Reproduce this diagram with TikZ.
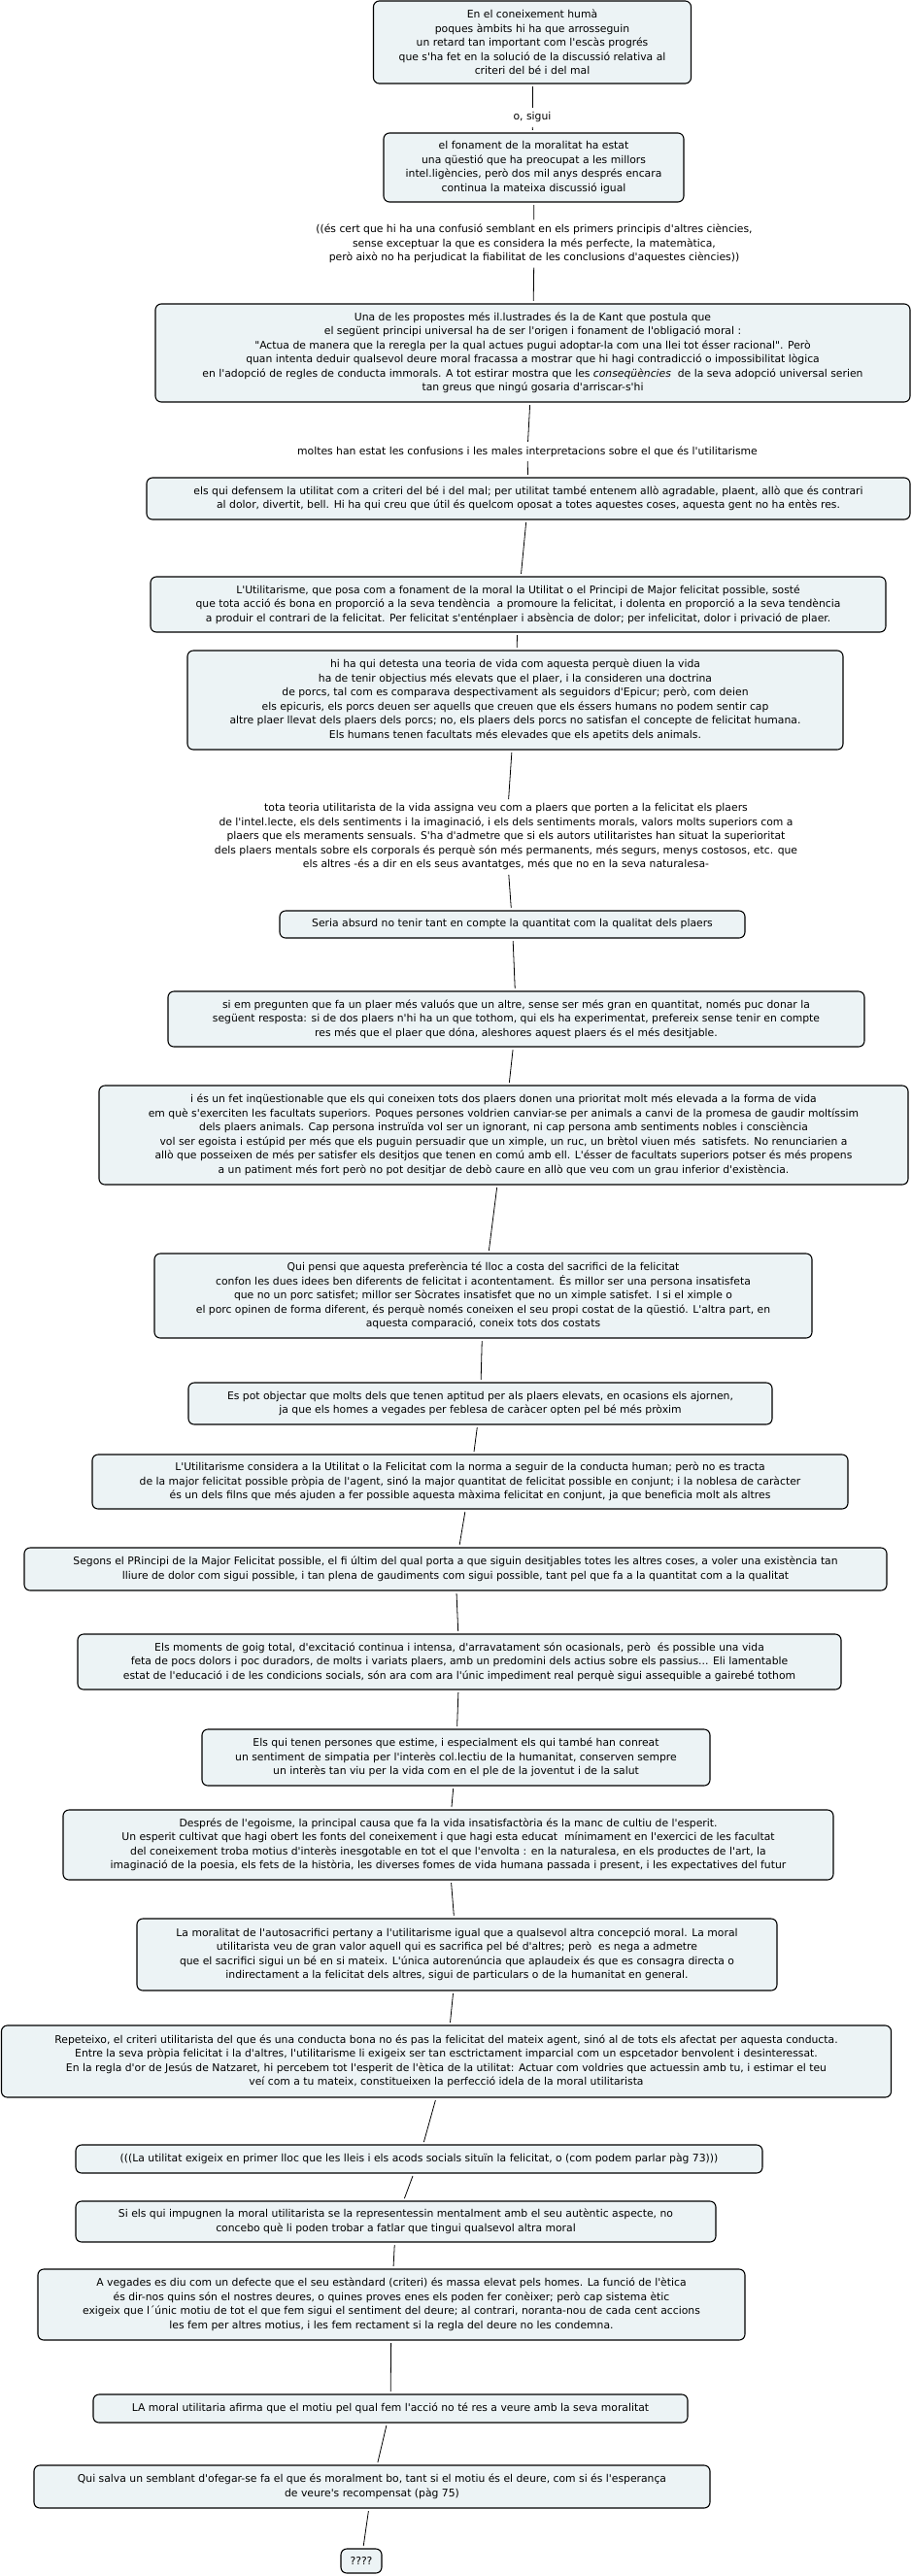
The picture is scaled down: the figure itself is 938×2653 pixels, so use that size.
\documentclass[tikz,border=0pt]{standalone}
\usepackage{fontspec}
\setmainfont{DejaVu Sans}[Ligatures=TeXOff]
\definecolor{boxfill}{RGB}{236,243,245}
\newcommand\mapfont{\fontsize{10.8}{14.5}\selectfont}
\tikzset{
  box/.style={draw=black, line width=1.1pt, fill=boxfill, rounded corners=6pt, align=center, inner sep=0pt, font=\mapfont},
  lab/.style={align=center, inner sep=2pt, font=\mapfont},
  conn/.style={draw=black, line width=0.8pt, shorten >=2.5pt, shorten <=2.5pt},
}
\begin{document}
\begin{tikzpicture}[x=1pt, y=-1pt]
\useasboundingbox (0,0) rectangle (938,2653);

\node[box, minimum width=327, minimum height=85] (B1) at (548,43.5) {En el coneixement humà\\poques àmbits hi ha que arrosseguin\\un retard tan important com l'escàs progrés\\que s'ha fet en la solució de la discussió relativa al\\criteri del bé i del mal};
\node[lab] (L1) at (548,121) {o, sigui};
\node[box, minimum width=309, minimum height=71] (B2) at (549.5,172.5) {el fonament de la moralitat ha estat\\una qüestió que ha preocupat a les millors\\intel.ligències, però dos mil anys després encara\\continua la mateixa discussió igual};
\node[lab] (L2) at (550,251) {((és cert que hi ha una confusió semblant en els primers principis d'altres ciències,\\sense exceptuar la que es considera la més perfecte, la matemàtica,\\però això no ha perjudicat la fiabilitat de les conclusions d'aquestes ciències))};
\node[box, minimum width=777, minimum height=101] (B3) at (548.5,363.5) {Una de les propostes més il.lustrades és la de Kant que postula que\\el següent principi universal ha de ser l'origen i fonament de l'obligació moral :\\"Actua de manera que la reregla per la qual actues pugui adoptar-la com una llei tot ésser racional". Però\\quan intenta deduir qualsevol deure moral fracassa a mostrar que hi hagi contradicció o impossibilitat lògica\\en l'adopció de regles de conducta immorals. A tot estirar mostra que les \textit{conseqüències}\ \ de la seva adopció universal serien\\tan greus que ningú gosaria d'arriscar-s'hi};
\node[lab] (L3) at (543,465) {moltes han estat les confusions i les males interpretacions sobre el que és l'utilitarisme};
\node[box, minimum width=786, minimum height=43] (B4) at (544,513.5) {els qui defensem la utilitat com a criteri del bé i del mal; per utilitat també entenem allò agradable, plaent, allò que és contrari\\al dolor, divertit, bell. Hi ha qui creu que útil és quelcom oposat a totes aquestes coses, aquesta gent no ha entès res.};
\node[box, minimum width=757, minimum height=57] (B5) at (533.5,622.5) {L'Utilitarisme, que posa com a fonament de la moral la Utilitat o el Principi de Major felicitat possible, sosté\\que tota acció és bona en proporció a la seva tendència\ \ a promoure la felicitat, i dolenta en proporció a la seva tendència\\a produir el contrari de la felicitat. Per felicitat s'enténplaer i absència de dolor; per infelicitat, dolor i privació de plaer.};
\node[box, minimum width=675, minimum height=102] (B6) at (530.5,721) {hi ha qui detesta una teoria de vida com aquesta perquè diuen la vida\\ha de tenir objectius més elevats que el plaer, i la consideren una doctrina\\de porcs, tal com es comparava despectivament als seguidors d'Epicur; però, com deien\\els epicuris, els porcs deuen ser aquells que creuen que els éssers humans no podem sentir cap\\altre plaer llevat dels plaers dels porcs; no, els plaers dels porcs no satisfan el concepte de felicitat humana.\\Els humans tenen facultats més elevades que els apetits dels animals.};
\node[lab] (L4) at (521,862) {tota teoria utilitarista de la vida assigna veu com a plaers que porten a la felicitat els plaers\\de l'intel.lecte, els dels sentiments i la imaginació, i els dels sentiments morals, valors molts superiors com a\\plaers que els meraments sensuals. S'ha d'admetre que si els autors utilitaristes han situat la superioritat\\dels plaers mentals sobre els corporals és perquè són més permanents, més segurs, menys costosos, etc. que\\els altres -és a dir en els seus avantatges, més que no en la seva naturalesa-};
\node[box, minimum width=479, minimum height=28] (B7) at (527.5,952) {Seria absurd no tenir tant en compte la quantitat com la qualitat dels plaers};
\node[box, minimum width=717, minimum height=57] (B8) at (531.5,1049.5) {si em pregunten que fa un plaer més valuós que un altre, sense ser més gran en quantitat, només puc donar la\\següent resposta: si de dos plaers n'hi ha un que tothom, qui els ha experimentat, prefereix sense tenir en compte\\res més que el plaer que dóna, aleshores aquest plaers és el més desitjable.};
\node[box, minimum width=833, minimum height=102] (B9) at (518.5,1169) {i és un fet inqüestionable que els qui coneixen tots dos plaers donen una prioritat molt més elevada a la forma de vida\\em què s'exerciten les facultats superiors. Poques persones voldrien canviar-se per animals a canvi de la promesa de gaudir moltíssim\\dels plaers animals. Cap persona instruïda vol ser un ignorant, ni cap persona amb sentiments nobles i consciència\\vol ser egoista i estúpid per més que els puguin persuadir que un ximple, un ruc, un brètol viuen més\ \ satisfets. No renunciarien a\\allò que posseixen de més per satisfer els desitjos que tenen en comú amb ell. L'ésser de facultats superiors potser és més propens\\a un patiment més fort però no pot desitjar de debò caure en allò que veu com un grau inferior d'existència.};
\node[box, minimum width=677, minimum height=87] (B10) at (497.5,1334.5) {Qui pensi que aquesta preferència té lloc a costa del sacrifici de la felicitat\\confon les dues idees ben diferents de felicitat i acontentament. És millor ser una persona insatisfeta\\que no un porc satisfet; millor ser Sòcrates insatisfet que no un ximple satisfet. I si el ximple o\\el porc opinen de forma diferent, és perquè només coneixen el seu propi costat de la qüestió. L'altra part, en\\aquesta comparació, coneix tots dos costats};
\node[box, minimum width=601, minimum height=43] (B11) at (494.5,1445.5) {Es pot objectar que molts dels que tenen aptitud per als plaers elevats, en ocasions els ajornen,\\ja que els homes a vegades per feblesa de caràcer opten pel bé més pròxim};
\node[box, minimum width=778, minimum height=56] (B12) at (484,1526) {L'Utilitarisme considera a la Utilitat o la Felicitat com la norma a seguir de la conducta human; però no es tracta\\de la major felicitat possible pròpia de l'agent, sinó la major quantitat de felicitat possible en conjunt; i la noblesa de caràcter\\és un dels filns que més ajuden a fer possible aquesta màxima felicitat en conjunt, ja que beneficia molt als altres};
\node[box, minimum width=888, minimum height=44] (B13) at (469,1616) {Segons el PRincipi de la Major Felicitat possible, el fi últim del qual porta a que siguin desitjables totes les altres coses, a voler una existència tan\\lliure de dolor com sigui possible, i tan plena de gaudiments com sigui possible, tant pel que fa a la quantitat com a la qualitat};
\node[box, minimum width=786, minimum height=57] (B14) at (473,1711.5) {Els moments de goig total, d'excitació continua i intensa, d'arravatament són ocasionals, però\ \ és possible una vida\\feta de pocs dolors i poc duradors, de molts i variats plaers, amb un predomini dels actius sobre els passius... Eli lamentable\\estat de l'educació i de les condicions socials, són ara com ara l'únic impediment real perquè sigui assequible a gairebé tothom};
\node[box, minimum width=523, minimum height=58] (B15) at (469.5,1810) {Els qui tenen persones que estime, i especialment els qui també han conreat\\un sentiment de simpatia per l'interès col.lectiu de la humanitat, conserven sempre\\un interès tan viu per la vida com en el ple de la joventut i de la salut};
\node[box, minimum width=793, minimum height=72] (B16) at (461.5,1900) {Després de l'egoisme, la principal causa que fa la vida insatisfactòria és la manc de cultiu de l'esperit.\\Un esperit cultivat que hagi obert les fonts del coneixement i que hagi esta educat\ \ mínimament en l'exercici de les facultat\\del coneixement troba motius d'interès inesgotable en tot el que l'envolta : en la naturalesa, en els productes de l'art, la\\imaginació de la poesia, els fets de la història, les diverses fomes de vida humana passada i present, i les expectatives del futur};
\node[box, minimum width=659, minimum height=74] (B17) at (470.5,2013) {La moralitat de l'autosacrifici pertany a l'utilitarisme igual que a qualsevol altra concepció moral. La moral\\utilitarista veu de gran valor aquell qui es sacrifica pel bé d'altres; però\ \ es nega a admetre\\que el sacrifici sigui un bé en si mateix. L'única autorenúncia que aplaudeix és que es consagra directa o\\indirectament a la felicitat dels altres, sigui de particulars o de la humanitat en general.};
\node[box, minimum width=916, minimum height=74] (B18) at (459.5,2123) {Repeteixo, el criteri utilitarista del que és una conducta bona no és pas la felicitat del mateix agent, sinó al de tots els afectat per aquesta conducta.\\Entre la seva pròpia felicitat i la d'altres, l'utilitarisme li exigeix ser tan esctrictament imparcial com un espcetador benvolent i desinteressat.\\En la regla d'or de Jesús de Natzaret, hi percebem tot l'esperit de l'ètica de la utilitat: Actuar com voldries que actuessin amb tu, i estimar el teu\\veí com a tu mateix, constitueixen la perfecció idela de la moral utilitarista};
\node[box, minimum width=707, minimum height=29] (B19) at (431.5,2223.5) {(((La utilitat exigeix en primer lloc que les lleis i els acods socials situïn la felicitat, o (com podem parlar pàg 73)))};
\node[box, minimum width=659, minimum height=42] (B20) at (407.5,2288) {Si els qui impugnen la moral utilitarista se la representessin mentalment amb el seu autèntic aspecte, no\\concebo què li poden trobar a fatlar que tingui qualsevol altra moral};
\node[box, minimum width=728, minimum height=73] (B21) at (403,2373.5) {A vegades es diu com un defecte que el seu estàndard (criteri) és massa elevat pels homes. La funció de l'ètica\\és dir-nos quins són el nostres deures, o quines proves enes els poden fer conèixer; però cap sistema ètic\\exigeix que l´únic motiu de tot el que fem sigui el sentiment del deure; al contrari, noranta-nou de cada cent accions\\les fem per altres motius, i les fem rectament si la regla del deure no les condemna.};
\node[box, minimum width=612, minimum height=29] (B22) at (402,2480.5) {LA moral utilitaria afirma que el motiu pel qual fem l'acció no té res a veure amb la seva moralitat};
\node[box, minimum width=696, minimum height=44] (B23) at (383,2561) {Qui salva un semblant d'ofegar-se fa el que és moralment bo, tant si el motiu és el deure, com si és l'esperança\\de veure's recompensat (pàg 75)};
\node[box, minimum width=42, minimum height=25] (B24) at (372,2637.5) {????};

\draw[conn] (B1) -- (L1);
\draw[conn] (L1) -- (B2);
\draw[conn] (B2) -- (L2);
\draw[conn] (L2) -- (B3);
\draw[conn] (B3) -- (L3);
\draw[conn] (L3) -- (B4);
\draw[conn] (B4) -- (B5);
\draw[conn] (B5) -- (B6);
\draw[conn] (B6) -- (L4);
\draw[conn] (L4) -- (B7);
\draw[conn] (B7) -- (B8);
\draw[conn] (B8) -- (B9);
\draw[conn] (B9) -- (B10);
\draw[conn] (B10) -- (B11);
\draw[conn] (B11) -- (B12);
\draw[conn] (B12) -- (B13);
\draw[conn] (B13) -- (B14);
\draw[conn] (B14) -- (B15);
\draw[conn] (B15) -- (B16);
\draw[conn] (B16) -- (B17);
\draw[conn] (B17) -- (B18);
\draw[conn] (B18) -- (B19);
\draw[conn] (B19) -- (B20);
\draw[conn] (B20) -- (B21);
\draw[conn] (B21) -- (B22);
\draw[conn] (B22) -- (B23);
\draw[conn] (B23) -- (B24);
\end{tikzpicture}
\end{document}
